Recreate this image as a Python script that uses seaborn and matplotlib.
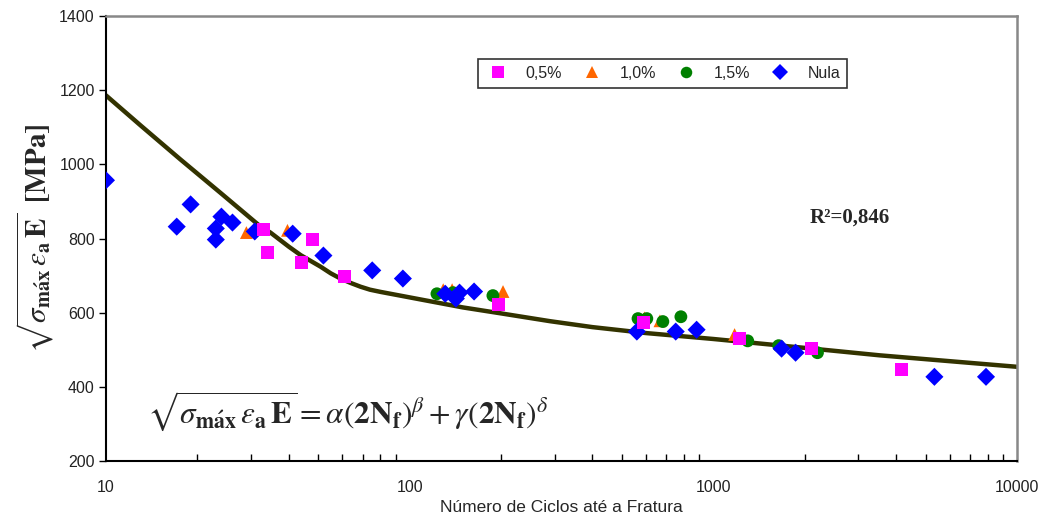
import pandas as pd
import seaborn as sns
import matplotlib.pyplot as plt
from matplotlib.ticker import LogLocator, FixedLocator, NullFormatter

# values
n_05 = [33.0, 34.0, 44.0, 47.9, 61.0, 196, 590, 1222, 2105, 4159]
s_05 = [824, 762, 735, 797, 697, 622, 573, 530, 503, 446]

n_10 = [29.0, 39.6, 129, 138, 203, 593, 667, 1175]
s_10 = [816, 822, 662, 662, 657, 586, 578, 541]

n_15 = [123, 139, 188, 565, 604, 682, 782, 1298, 1641, 2203]
s_15 = [651, 654, 646, 584, 584, 576, 589, 524, 511, 492]

n_nula = [10, 17.1, 19.0, 23.0, 23.0, 24.0, 26.1, 30.9, 41.2, 52.0, 75.3, 95,
          131, 142, 146, 163, 560, 752, 881, 1678, 1866, 5346, 7906]
s_nula = [957, 832, 892, 827, 797, 859, 843, 819, 813, 754, 714, 692,
          651, 638, 654, 657, 549, 549, 554, 503, 492, 427, 427]

# fitted curve
curve_n = [10, 13, 17.6, 24, 32.3, 34.8, 40, 43.8, 50.9, 55, 59.2, 64, 68.9, 74, 80.2, 93.1,
           108, 150, 200, 290, 400, 600, 1000, 2000, 3524, 10000]
curve_s = [1186, 1105, 1013, 921, 832, 816, 778, 755, 724, 706, 692, 680, 670, 662, 656, 646,
           636, 614, 598, 577, 561, 545, 529, 505, 485, 454]

labels = ['0,5%', '1,0%', '1,5%', 'Nula']
colors = ['#FF00FF', '#FF6600', '#008000', '#0000FF']
markers = ['s', '^', 'o', 'D']
y_ticks = [200, 400, 600, 800, 1000, 1200, 1400]
x_ticks = [10, 100, 1000, 10000]

# draw order: orange, green, blue, pink
parts = [(n_10, s_10, '1,0%'), (n_15, s_15, '1,5%'),
         (n_nula, s_nula, 'Nula'), (n_05, s_05, '0,5%')]
df = pd.concat([pd.DataFrame({'N': n, 'S': s, 'serie': lab}) for n, s, lab in parts],
               ignore_index=True)
curve = pd.DataFrame({'N': curve_n, 'S': curve_s})

sns.set_theme(style='white')
plt.rcParams['font.family'] = ['Liberation Sans', 'DejaVu Sans']
plt.rcParams['mathtext.fontset'] = 'stix'

fig = plt.figure(figsize=(10.45, 5.22), dpi=100)
ax = fig.add_axes([0.1014, 0.1169, 0.8718, 0.8524])

sns.lineplot(data=curve, x='N', y='S', color='#333300', linewidth=3.2,
             sort=False, ax=ax, zorder=2)
sns.scatterplot(data=df, x='N', y='S', hue='serie', style='serie',
                hue_order=labels, style_order=labels,
                palette=dict(zip(labels, colors)),
                markers=dict(zip(labels, markers)),
                s=85, linewidth=0, ax=ax, zorder=3)

ax.set_xscale('log')
ax.set_xlim(10, 10000)
ax.set_ylim(200, 1400)
ax.set_yticks(y_ticks)
ax.xaxis.set_major_locator(FixedLocator(x_ticks))
ax.set_xticklabels([str(t) for t in x_ticks])
ax.xaxis.set_minor_locator(LogLocator(base=10, subs=range(2, 10)))
ax.xaxis.set_minor_formatter(NullFormatter())

ax.tick_params(axis='x', which='major', direction='out', length=5, width=1,
               color='black', pad=9, labelsize=11.5, labelcolor='#222222')
ax.tick_params(axis='x', which='minor', direction='in', length=5, width=1,
               color='black', bottom=True)
ax.tick_params(axis='y', which='major', direction='out', length=5, width=1,
               color='black', pad=3, labelsize=11.5, labelcolor='#222222', left=True)

for side in ['left', 'bottom']:
    ax.spines[side].set_color('black')
    ax.spines[side].set_linewidth(1.5)
for side in ['top', 'right']:
    ax.spines[side].set_color('#888888')
    ax.spines[side].set_linewidth(1.8)

ax.set_xlabel('Número de Ciclos até a Fratura', fontsize=12.5, labelpad=3)
ax.set_ylabel(r'$\sqrt{\sigma_{\mathbf{m\acute{a}x}}\,\varepsilon_{\mathbf{a}}\,\mathbf{E}}\;\;\mathbf{[MPa]}$',
              fontsize=21, labelpad=2)

ax.text(0.045, 0.112,
        r'$\sqrt{\sigma_{\mathbf{m\acute{a}x}}\,\varepsilon_{\mathbf{a}}\,\mathbf{E}}'
        r'=\alpha\left(\mathbf{2N_f}\right)^{\beta}+\gamma\left(\mathbf{2N_f}\right)^{\delta}$',
        transform=ax.transAxes, fontsize=22.5, va='center', ha='left')
ax.text(2806, 857, 'R²=0,846', family=['Liberation Serif', 'DejaVu Serif'],
        fontsize=15, fontweight='bold', ha='center', va='center')

leg = ax.legend(loc='upper left', bbox_to_anchor=(0.400, 0.922), ncol=4,
                frameon=True, fancybox=False, fontsize=11.5, markerscale=0.9,
                handletextpad=0.9, columnspacing=1.1, borderpad=0.45,
                handlelength=1.6, title=None)
leg.get_frame().set_edgecolor('black')
leg.get_frame().set_linewidth(1.2)

plt.savefig('out.png', dpi=100)
